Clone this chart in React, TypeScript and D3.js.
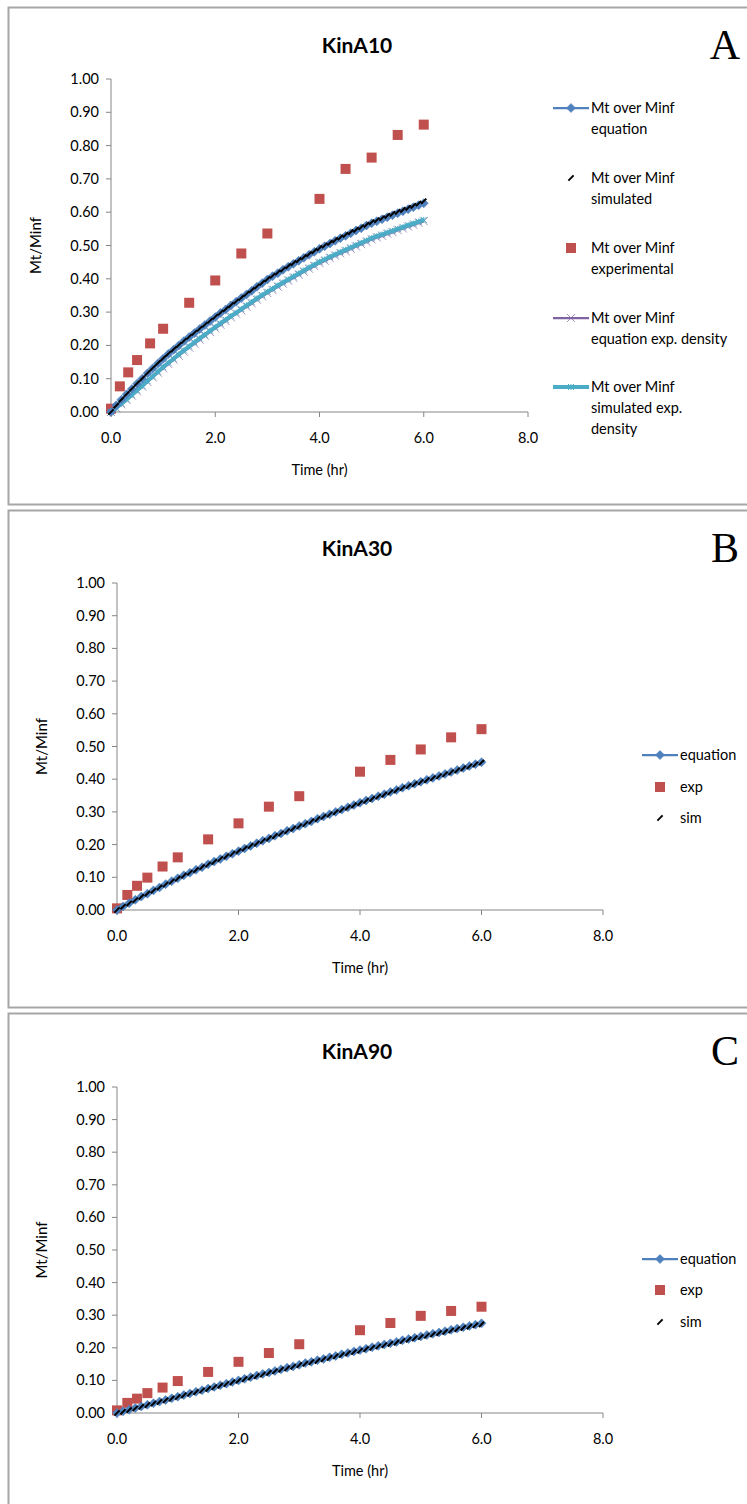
import React from 'react';
import * as d3 from 'd3';

// sampling times (hr) of the equation / simulated curves
const timeSteps = [
  0.0, 0.1, 0.2, 0.3, 0.4, 0.5, 0.6, 0.7, 0.8, 0.9, 1.0, 1.1, 1.2, 1.3, 1.4, 1.5, 1.6, 1.7, 1.8, 1.9,
  2.0, 2.1, 2.2, 2.3, 2.4, 2.5, 2.6, 2.7, 2.8, 2.9, 3.0, 3.1, 3.2, 3.3, 3.4, 3.5, 3.6, 3.7, 3.8, 3.9,
  4.0, 4.1, 4.2, 4.3, 4.4, 4.5, 4.6, 4.7, 4.8, 4.9, 5.0, 5.1, 5.2, 5.3, 5.4, 5.5, 5.6, 5.7, 5.8, 5.9, 6.0,
];

// experimental sampling times (hr)
const expTimes = [0, 0.17, 0.33, 0.5, 0.75, 1, 1.5, 2, 2.5, 3, 4, 4.5, 5, 5.5, 6];

// KinA10
const eqA = [
  0.000, 0.020, 0.037, 0.053, 0.069, 0.085, 0.100, 0.116, 0.131, 0.146, 0.160, 0.174, 0.187, 0.200, 0.213, 0.225, 0.237, 0.249, 0.261, 0.273,
  0.285, 0.297, 0.308, 0.320, 0.331, 0.342, 0.353, 0.364, 0.376, 0.387, 0.398, 0.408, 0.417, 0.427, 0.436, 0.445, 0.454, 0.463, 0.472, 0.481,
  0.490, 0.498, 0.506, 0.514, 0.522, 0.529, 0.537, 0.545, 0.552, 0.560, 0.567, 0.573, 0.579, 0.585, 0.591, 0.597, 0.603, 0.609, 0.615, 0.621, 0.627,
];
const simA = [
  0.000, 0.019, 0.037, 0.054, 0.070, 0.086, 0.101, 0.117, 0.132, 0.147, 0.161, 0.175, 0.188, 0.201, 0.214, 0.226, 0.238, 0.250, 0.262, 0.274,
  0.286, 0.298, 0.309, 0.321, 0.332, 0.343, 0.355, 0.366, 0.377, 0.388, 0.399, 0.409, 0.419, 0.428, 0.438, 0.447, 0.456, 0.465, 0.474, 0.483,
  0.492, 0.500, 0.508, 0.516, 0.524, 0.532, 0.540, 0.547, 0.555, 0.562, 0.570, 0.576, 0.582, 0.589, 0.595, 0.601, 0.607, 0.613, 0.619, 0.626, 0.633,
];
const expA = [0.01, 0.077, 0.119, 0.156, 0.206, 0.25, 0.328, 0.395, 0.476, 0.536, 0.64, 0.73, 0.764, 0.832, 0.863];
const eqExpA = [
  0.000, 0.011, 0.023, 0.036, 0.049, 0.062, 0.076, 0.090, 0.104, 0.118, 0.131, 0.144, 0.157, 0.169, 0.181, 0.193, 0.205, 0.217, 0.229, 0.240,
  0.251, 0.262, 0.273, 0.284, 0.295, 0.305, 0.316, 0.326, 0.337, 0.347, 0.357, 0.366, 0.376, 0.385, 0.394, 0.403, 0.412, 0.421, 0.430, 0.438,
  0.447, 0.454, 0.462, 0.469, 0.476, 0.483, 0.490, 0.497, 0.504, 0.511, 0.518, 0.524, 0.529, 0.535, 0.540, 0.546, 0.551, 0.557, 0.562, 0.568, 0.573,
];
const simExpA = [
  0.000, 0.012, 0.025, 0.038, 0.051, 0.065, 0.079, 0.093, 0.107, 0.121, 0.135, 0.148, 0.160, 0.173, 0.185, 0.197, 0.209, 0.221, 0.232, 0.244,
  0.255, 0.266, 0.277, 0.288, 0.298, 0.309, 0.320, 0.330, 0.341, 0.351, 0.361, 0.370, 0.380, 0.389, 0.398, 0.407, 0.416, 0.425, 0.434, 0.442,
  0.451, 0.458, 0.466, 0.473, 0.480, 0.487, 0.494, 0.501, 0.508, 0.515, 0.522, 0.528, 0.533, 0.539, 0.544, 0.550, 0.555, 0.561, 0.566, 0.572, 0.577,
];

// KinA30
const eqB = [
  0.000, 0.011, 0.021, 0.031, 0.041, 0.050, 0.060, 0.069, 0.079, 0.088, 0.097, 0.106, 0.114, 0.123, 0.131, 0.140, 0.148, 0.156, 0.164, 0.172,
  0.180, 0.188, 0.196, 0.204, 0.212, 0.219, 0.227, 0.234, 0.242, 0.249, 0.257, 0.264, 0.271, 0.279, 0.286, 0.293, 0.300, 0.307, 0.314, 0.321,
  0.328, 0.335, 0.341, 0.348, 0.354, 0.361, 0.367, 0.374, 0.380, 0.386, 0.392, 0.398, 0.404, 0.410, 0.416, 0.422, 0.428, 0.434, 0.440, 0.446, 0.452,
];
const simB = [
  0.000, 0.010, 0.020, 0.030, 0.040, 0.050, 0.059, 0.069, 0.078, 0.087, 0.096, 0.105, 0.114, 0.122, 0.131, 0.139, 0.147, 0.156, 0.164, 0.172,
  0.180, 0.188, 0.196, 0.203, 0.211, 0.219, 0.226, 0.234, 0.241, 0.249, 0.256, 0.263, 0.271, 0.278, 0.285, 0.292, 0.299, 0.306, 0.313, 0.320,
  0.327, 0.334, 0.340, 0.347, 0.353, 0.360, 0.366, 0.373, 0.379, 0.385, 0.391, 0.397, 0.403, 0.409, 0.415, 0.421, 0.427, 0.433, 0.439, 0.445, 0.451,
];
const expB = [0.005, 0.046, 0.074, 0.099, 0.133, 0.161, 0.216, 0.265, 0.316, 0.348, 0.423, 0.459, 0.491, 0.528, 0.553];

// KinA90
const eqC = [
  0.000, 0.005, 0.010, 0.015, 0.020, 0.025, 0.030, 0.035, 0.040, 0.045, 0.050, 0.055, 0.060, 0.065, 0.070, 0.075, 0.080, 0.085, 0.090, 0.095,
  0.100, 0.105, 0.110, 0.115, 0.120, 0.124, 0.129, 0.134, 0.139, 0.143, 0.148, 0.153, 0.157, 0.162, 0.166, 0.171, 0.175, 0.180, 0.184, 0.189,
  0.193, 0.197, 0.202, 0.206, 0.210, 0.214, 0.218, 0.223, 0.227, 0.231, 0.235, 0.239, 0.243, 0.247, 0.251, 0.255, 0.259, 0.263, 0.267, 0.271, 0.275,
];
const simC = [
  0.000, 0.004, 0.009, 0.014, 0.019, 0.024, 0.029, 0.034, 0.039, 0.044, 0.049, 0.054, 0.059, 0.064, 0.069, 0.074, 0.079, 0.084, 0.089, 0.094,
  0.099, 0.104, 0.109, 0.113, 0.118, 0.123, 0.128, 0.133, 0.137, 0.142, 0.147, 0.151, 0.156, 0.160, 0.165, 0.169, 0.174, 0.178, 0.183, 0.187,
  0.191, 0.196, 0.200, 0.204, 0.208, 0.212, 0.216, 0.221, 0.225, 0.229, 0.233, 0.237, 0.241, 0.245, 0.249, 0.253, 0.257, 0.261, 0.265, 0.269, 0.272,
];
const expC = [0.008, 0.031, 0.044, 0.061, 0.078, 0.098, 0.126, 0.157, 0.184, 0.211, 0.254, 0.276, 0.298, 0.313, 0.326];

const yTicks = [0, 0.1, 0.2, 0.3, 0.4, 0.5, 0.6, 0.7, 0.8, 0.9, 1.0];
const xTicks = [0, 2, 4, 6, 8];

const FONT = 'Lato, "Open Sans", sans-serif';
const AXIS = '#868686';
const BLUE = '#4F81BD';
const RED = '#C0504D';
const PURPLE = '#8064A2';
const CYAN = '#4BACC6';

type Marker = 'diamond' | 'dash' | 'square' | 'cross' | 'star';

function MarkerShape({ kind, x, y }: { kind: Marker; x: number; y: number }) {
  if (kind === 'diamond')
    return <path d={`M${x},${y - 4.5}L${x + 4.5},${y}L${x},${y + 4.5}L${x - 4.5},${y}Z`} fill={BLUE} stroke={BLUE} strokeWidth={0.6} />;
  if (kind === 'dash')
    return <line x1={x - 2.6} y1={y + 2.6} x2={x + 2.6} y2={y - 2.6} stroke="#000" strokeWidth={2} />;
  if (kind === 'square') return <rect x={x - 5} y={y - 5} width={10} height={10} fill={RED} />;
  if (kind === 'cross')
    return (
      <path d={`M${x - 4},${y - 4}L${x + 4},${y + 4}M${x - 4},${y + 4}L${x + 4},${y - 4}`} stroke={PURPLE} strokeOpacity={0.7} strokeWidth={1} />
    );
  return (
    <path d={`M${x - 3},${y - 3}L${x + 3},${y + 3}M${x - 3},${y + 3}L${x + 3},${y - 3}M${x},${y - 3}L${x},${y + 3}`} stroke={CYAN} strokeWidth={1} />
  );
}

interface Series {
  name: string[];
  xs: number[];
  ys: number[];
  marker: Marker;
  line?: string;
  lineWidth?: number;
}

interface PanelProps {
  top: number;
  height: number;
  title: string;
  letter: string;
  x0: number;
  x8: number;
  y0: number;
  y1: number;
  drawOrder: Series[];
  legend: Series[];
  legendX: number;
  legendY: number[];
  legendGap: number;
}

function Panel(p: PanelProps) {
  const x = d3.scaleLinear().domain([0, 8]).range([p.x0, p.x8]);
  const y = d3.scaleLinear().domain([0, 1]).range([p.y0, p.y1]);
  const midY = (p.y0 + p.y1) / 2;
  const midX = (p.x0 + p.x8) / 2;

  return (
    <g fontFamily={FONT}>
      <rect x={8.5} y={p.top + 0.5} width={760} height={p.height} fill="#fff" stroke="#a6a6a6" strokeWidth={2} />
      <text x={357} y={p.top + 46} textAnchor="middle" fontSize={21} fontWeight="bold" fill="#000">
        {p.title}
      </text>
      <text x={725} y={p.top + 52} textAnchor="middle" fontSize={42} fontFamily='"Liberation Serif", serif' fill="#000">
        {p.letter}
      </text>

      {/* axes */}
      <line x1={p.x0} x2={p.x0} y1={p.y1} y2={p.y0} stroke={AXIS} />
      <line x1={p.x0} x2={p.x8} y1={p.y0} y2={p.y0} stroke={AXIS} />
      {yTicks.map((t) => (
        <g key={'y' + t}>
          <line x1={p.x0 - 5} x2={p.x0} y1={y(t)} y2={y(t)} stroke={AXIS} />
          <text x={p.x0 - 12} y={y(t)} dy="0.35em" textAnchor="end" fontSize={14.5} fill="#000">
            {d3.format('.2f')(t)}
          </text>
        </g>
      ))}
      {xTicks.map((t) => (
        <g key={'x' + t}>
          <line x1={x(t)} x2={x(t)} y1={p.y0} y2={p.y0 + 5} stroke={AXIS} />
          <text x={x(t)} y={p.y0 + 31} textAnchor="middle" fontSize={14.5} fill="#000">
            {d3.format('.1f')(t)}
          </text>
        </g>
      ))}
      <text x={midX} y={p.y0 + 63} textAnchor="middle" fontSize={14.5} fill="#000">
        Time (hr)
      </text>
      <text transform={`translate(${p.x0 - 70},${midY}) rotate(-90)`} textAnchor="middle" fontSize={15} fill="#000">
        Mt/Minf
      </text>

      {/* data */}
      {p.drawOrder.map((s, si) => {
        const path = d3
          .line<number>()
          .x((_, i) => x(s.xs[i]))
          .y((v) => y(v))(s.ys);
        return (
          <g key={si}>
            {s.line && <path d={path || ''} fill="none" stroke={s.line} strokeWidth={s.lineWidth || 2.25} />}
            {s.ys.map((v, i) => (
              <MarkerShape key={i} kind={s.marker} x={x(s.xs[i])} y={y(v)} />
            ))}
          </g>
        );
      })}

      {/* legend */}
      {p.legend.map((s, i) => {
        const ly = p.legendY[i];
        return (
          <g key={'l' + i}>
            {s.line && <line x1={p.legendX} x2={p.legendX + 36} y1={ly} y2={ly} stroke={s.line} strokeWidth={s.lineWidth || 2.25} />}
            <MarkerShape kind={s.marker} x={p.legendX + 18} y={ly} />
            {s.name.map((n, k) => (
              <text key={k} x={p.legendX + 38} y={ly + k * p.legendGap} dy="0.35em" fontSize={14.5} fill="#000">
                {n}
              </text>
            ))}
          </g>
        );
      })}
    </g>
  );
}

export default function App() {
  const sA = {
    eq: { name: ['Mt over Minf', 'equation'], xs: timeSteps, ys: eqA, marker: 'diamond' as Marker, line: BLUE },
    sim: { name: ['Mt over Minf', 'simulated'], xs: timeSteps, ys: simA, marker: 'dash' as Marker },
    exp: { name: ['Mt over Minf', 'experimental'], xs: expTimes, ys: expA, marker: 'square' as Marker },
    eqExp: { name: ['Mt over Minf', 'equation exp. density'], xs: timeSteps, ys: eqExpA, marker: 'cross' as Marker, line: PURPLE },
    simExp: { name: ['Mt over Minf', 'simulated exp.', 'density'], xs: timeSteps, ys: simExpA, marker: 'star' as Marker, line: CYAN, lineWidth: 4 },
  };
  const sB = {
    eq: { name: ['equation'], xs: timeSteps, ys: eqB, marker: 'diamond' as Marker, line: BLUE },
    exp: { name: ['exp'], xs: expTimes, ys: expB, marker: 'square' as Marker },
    sim: { name: ['sim'], xs: timeSteps, ys: simB, marker: 'dash' as Marker },
  };
  const sC = {
    eq: { name: ['equation'], xs: timeSteps, ys: eqC, marker: 'diamond' as Marker, line: BLUE },
    exp: { name: ['exp'], xs: expTimes, ys: expC, marker: 'square' as Marker },
    sim: { name: ['sim'], xs: timeSteps, ys: simC, marker: 'dash' as Marker },
  };

  return (
    <svg width={747} height={1504} style={{ position: 'absolute', left: 0, top: 0, background: '#fff' }}>
      <Panel
        top={7}
        height={497}
        title="KinA10"
        letter="A"
        x0={111}
        x8={528}
        y0={412}
        y1={79}
        drawOrder={[sA.exp, sA.eqExp, sA.simExp, sA.eq, sA.sim]}
        legend={[sA.eq, sA.sim, sA.exp, sA.eqExp, sA.simExp]}
        legendX={553}
        legendY={[108, 178, 248, 318, 387]}
        legendGap={21}
      />
      <Panel
        top={510}
        height={497}
        title="KinA30"
        letter="B"
        x0={117}
        x8={603}
        y0={910}
        y1={583}
        drawOrder={[sB.exp, sB.eq, sB.sim]}
        legend={[sB.eq, sB.exp, sB.sim]}
        legendX={642}
        legendY={[755, 787, 818]}
        legendGap={21}
      />
      <Panel
        top={1013}
        height={600}
        title="KinA90"
        letter="C"
        x0={117}
        x8={603}
        y0={1413}
        y1={1087}
        drawOrder={[sC.exp, sC.eq, sC.sim]}
        legend={[sC.eq, sC.exp, sC.sim]}
        legendX={642}
        legendY={[1259, 1290, 1322]}
        legendGap={21}
      />
    </svg>
  );
}
